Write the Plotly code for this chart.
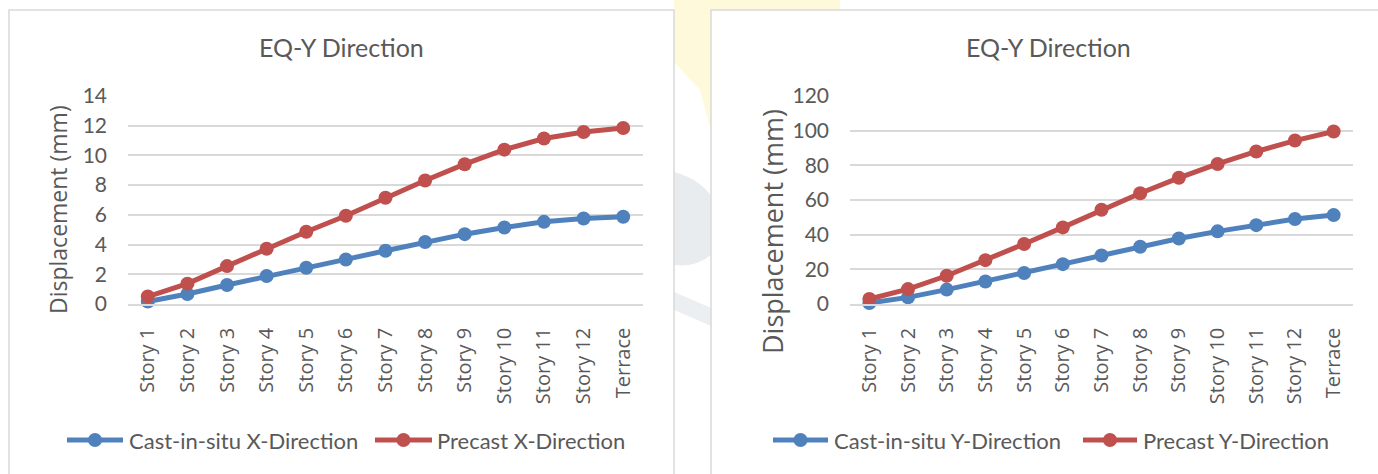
import plotly.graph_objects as go

# Categories (floors) shared by both panels
stories = ["Story 1", "Story 2", "Story 3", "Story 4", "Story 5", "Story 6", "Story 7",
           "Story 8", "Story 9", "Story 10", "Story 11", "Story 12", "Terrace"]

# Left panel: X-direction displacement (mm)
cast_x = [0.17, 0.67, 1.28, 1.88, 2.44, 3.0, 3.58, 4.17, 4.7, 5.15, 5.53, 5.75, 5.87]
precast_x = [0.5, 1.37, 2.55, 3.72, 4.86, 5.94, 7.15, 8.31, 9.41, 10.39, 11.14, 11.58, 11.85]

# Right panel: Y-direction displacement (mm)
cast_y = [0.6, 3.8, 8.3, 13.0, 17.9, 23.0, 28.0, 33.0, 37.8, 41.9, 45.5, 49.0, 51.3]
precast_y = [2.9, 8.6, 16.3, 25.3, 34.6, 44.2, 54.4, 63.9, 72.8, 80.8, 88.0, 94.3, 99.5]

chart_title = "EQ-Y Direction"
y_title = "Displacement (mm)"
legend_left = ["Cast-in-situ X-Direction", "Precast X-Direction"]
legend_right = ["Cast-in-situ Y-Direction", "Precast Y-Direction"]

BLUE = "#4F81BD"
RED = "#C0504D"
TEXT = "#595959"
GRID = "#D9D9D9"
W, H = 1378, 474


def px(x):
    return x / W


def py(y):
    return 1 - y / H


fig = go.Figure()

for xs, ys, color, name, ax in [
    (stories, cast_x, BLUE, legend_left[0], ("x", "y")),
    (stories, precast_x, RED, legend_left[1], ("x", "y")),
    (stories, cast_y, BLUE, legend_right[0], ("x2", "y2")),
    (stories, precast_y, RED, legend_right[1], ("x2", "y2")),
]:
    fig.add_trace(go.Scatter(
        x=xs, y=ys, name=name, mode="lines+markers",
        xaxis=ax[0], yaxis=ax[1],
        line=dict(color=color, width=5),
        marker=dict(color=color, size=14),
        cliponaxis=False, showlegend=False,
    ))

xaxis_common = dict(
    type="category", categoryorder="array", categoryarray=stories,
    range=[-0.5, len(stories) - 0.5], tickangle=-90, showgrid=False,
    showline=True, linecolor=GRID, linewidth=1.5, ticks="",
    tickfont=dict(family="Open Sans", size=20, color=TEXT),
    ticklabelstandoff=14, fixedrange=True, automargin=False,
)
yaxis_common = dict(
    showgrid=True, gridcolor=GRID, gridwidth=1.5, zeroline=False,
    showline=False, ticks="", tickfont=dict(family="Lato", size=21, color=TEXT),
    ticklabelstandoff=20, fixedrange=True, automargin=False,
)

y_dom = [py(304), py(96)]
fig.update_layout(
    width=W, height=H, margin=dict(l=0, r=0, t=0, b=0, autoexpand=False),
    paper_bgcolor="white", plot_bgcolor="rgba(0,0,0,0)",
    xaxis=dict(domain=[px(128), px(643)], anchor="y", **xaxis_common),
    yaxis=dict(domain=y_dom, anchor="x", range=[0, 14], dtick=2, **yaxis_common),
    xaxis2=dict(domain=[px(850), px(1353)], anchor="y2", **xaxis_common),
    yaxis2=dict(domain=y_dom, anchor="x2", range=[0, 120], dtick=20, **yaxis_common),
)

shapes = []
# faint background emblem showing between the two panels
shapes.append(dict(type="path", layer="below", xref="paper", yref="paper",
                   path=f"M {px(690)},{py(0)} L {px(840)},{py(0)} L {px(840)},{py(12)} "
                        f"L {px(716)},{py(12)} L {px(716)},{py(150)} L {px(700)},{py(90)} "
                        f"L {px(674)},{py(62)} L {px(674)},{py(0)} Z",
                   fillcolor="#FFF9DC", line=dict(width=0)))
shapes.append(dict(type="path", layer="below", xref="paper", yref="paper",
                   path=f"M {px(674)},{py(172)} Q {px(705)},{py(180)} {px(716)},{py(205)} "
                        f"L {px(716)},{py(250)} Q {px(700)},{py(268)} {px(674)},{py(265)} Z",
                   fillcolor="#E8ECEF", line=dict(width=0)))
shapes.append(dict(type="path", layer="below", xref="paper", yref="paper",
                   path=f"M {px(674)},{py(292)} L {px(716)},{py(310)} L {px(716)},{py(328)} "
                        f"L {px(674)},{py(310)} Z",
                   fillcolor="#EBEFF1", line=dict(width=0)))
# panel cards
for x0, x1 in [(9, 674), (711, 1390)]:
    shapes.append(dict(type="rect", layer="below", xref="paper", yref="paper",
                       x0=px(x0), x1=px(x1), y0=py(480), y1=py(10),
                       fillcolor="white", line=dict(color=GRID, width=1.5)))

annotations = []
for cx in [341, 1048]:
    annotations.append(dict(text=chart_title, x=px(cx), y=py(47), xref="paper", yref="paper",
                            showarrow=False, xanchor="center", yanchor="middle",
                            font=dict(family="Lato", size=25, color=TEXT)))
for cx, cy, size in [(58, 210, 23), (772, 232, 27)]:
    annotations.append(dict(text=y_title, x=px(cx), y=py(cy), xref="paper", yref="paper",
                            showarrow=False, textangle=-90, xanchor="center", yanchor="middle",
                            font=dict(family="Open Sans", size=size, color=TEXT)))

# legend entries: (line start, line end, text x, label, colour)
legend_items = [
    (67, 123, 127, legend_left[0], BLUE),
    (375, 432, 435, legend_left[1], RED),
    (773, 828, 832, legend_right[0], BLUE),
    (1083, 1137, 1141, legend_right[1], RED),
]
LY = 440
for x0, x1, tx, label, color in legend_items:
    shapes.append(dict(type="line", xref="paper", yref="paper",
                       x0=px(x0), x1=px(x1), y0=py(LY), y1=py(LY),
                       line=dict(color=color, width=5)))
    cx = (x0 + x1) / 2
    shapes.append(dict(type="circle", xref="paper", yref="paper",
                       x0=px(cx - 7), x1=px(cx + 7), y0=py(LY + 7), y1=py(LY - 7),
                       fillcolor=color, line=dict(width=0)))
    annotations.append(dict(text=label, x=px(tx), y=py(LY), xref="paper", yref="paper",
                            showarrow=False, xanchor="left", yanchor="middle",
                            font=dict(family="Lato", size=22, color=TEXT)))

fig.update_layout(shapes=shapes, annotations=annotations)
fig.write_html("out.html", config={"displayModeBar": False})
